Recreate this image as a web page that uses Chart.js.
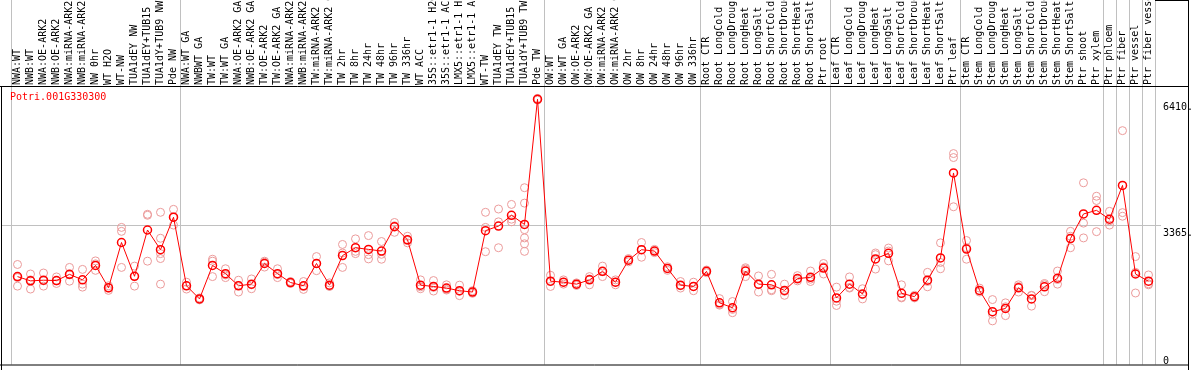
<!DOCTYPE html>
<html>
<head>
<meta charset="utf-8">
<script src="https://cdn.jsdelivr.net/npm/chart.js@4"></script>
<style>
  body { margin: 0; background: #fff; }
</style>
</head>
<body>
<canvas id="myChart" width="1194" height="370"></canvas>
<script>
const geneId = 'Potri.001G330300';

const labels = [
  'NWA:WT', 'NWB:WT', 'NWA:OE-ARK2', 'NWB:OE-ARK2', 'NWA:miRNA-ARK2', 'NWB:miRNA-ARK2', 'NW 0hr', 'WT H2O', 'WT-NW',
  'TUA1dEY NW', 'TUA1dEY+TUB15', 'TUA1dY+TUB9 NW', 'Pde NW',
  'NWA:WT GA', 'NWBWT GA', 'TW:WT', 'TW:WT GA', 'NWA:OE-ARK2 GA', 'NWB:OE-ARK2 GA', 'TW:OE-ARK2', 'TW:OE-ARK2 GA',
  'NWA:miRNA-ARK2 GA', 'NWB:miRNA-ARK2 GA', 'TW:miRNA-ARK2', 'TW:miRNA-ARK2 GA', 'TW 2hr', 'TW 8hr', 'TW 24hr', 'TW 48hr',
  'TW 96hr', 'TW 336hr', 'WT ACC', '35S::etr1-1 H2O', '35S::etr1-1 ACC', 'LMX5::etr1-1 H2O', 'LMX5::etr1-1 ACC', 'WT-TW',
  'TUA1dEY TW', 'TUA1dEY+TUB15', 'TUA1dY+TUB9 TW', 'Pde TW',
  'OW:WT', 'OW:WT GA', 'OW:OE-ARK2', 'OW:OE-ARK2 GA', 'OW:miRNA-ARK2', 'OW:miRNA-ARK2 GA', 'OW 2hr', 'OW 8hr', 'OW 24hr',
  'OW 48hr', 'OW 96hr', 'OW 336hr',
  'Root CTR', 'Root LongCold', 'Root LongDrought', 'Root LongHeat', 'Root LongSalt', 'Root ShortCold', 'Root ShortDrought',
  'Root ShortHeat', 'Root ShortSalt', 'Ptr root',
  'Leaf CTR', 'Leaf LongCold', 'Leaf LongDrought', 'Leaf LongHeat', 'Leaf LongSalt', 'Leaf ShortCold', 'Leaf ShortDrought',
  'Leaf ShortHeat', 'Leaf ShortSalt', 'Ptr leaf',
  'Stem CTR', 'Stem LongCold', 'Stem LongDrought', 'Stem LongHeat', 'Stem LongSalt', 'Stem ShortCold', 'Stem ShortDrought',
  'Stem ShortHeat', 'Stem ShortSalt', 'Ptr shoot', 'Ptr xylem',
  'Ptr phloem', 'Ptr fiber', 'Ptr vessel', 'Ptr fiber vessel'
];

// mean expression per sample (red line)
const means = [
  2124, 2021, 2037, 2029, 2179, 2045, 2393, 1854, 2948, 2132, 3250, 2774, 3559,
  1902, 1585, 2393, 2195, 1902, 1942, 2441, 2195, 1981, 1902, 2441, 1918, 2631, 2822, 2782, 2742,
  3329, 3012, 1918, 1886, 1847, 1783, 1751, 3234, 3345, 3606, 3384, 6410,
  2013, 1989, 1942, 2045, 2251, 1989, 2520, 2774, 2742, 2322, 1918, 1886,
  2251, 1490, 1371, 2259, 1942, 1926, 1791, 2076, 2108, 2330,
  1609, 1942, 1704, 2552, 2687, 1720, 1640, 2037, 2576, 4629,
  2790, 1791, 1276, 1355, 1854, 1585, 1878, 2084, 3043, 3638, 3725,
  3511, 4328, 2187, 2013
];

// replicate values per sample (pink circles)
const replicates = [
  [2417, 2100, 1894], [2187, 2045, 1823], [2211, 2021, 1894], [2116, 2021, 1958], [2346, 2164, 2013],
  [2298, 1942, 1870], [2504, 2433, 2275], [1902, 1847, 1791], [3313, 3218, 2346], [2378, 2132, 1894],
  [3630, 3606, 2497], [3678, 3051, 2679, 2560, 1942], [3749, 3559, 3369],
  [1989, 1902, 1823], [1609, 1585, 1561], [2544, 2497, 2124], [2314, 2164, 2100], [2037, 1910, 1751],
  [2068, 1926, 1831], [2497, 2473, 2354], [2314, 2172, 2100], [2005, 1981, 1958], [2005, 1886, 1815],
  [2608, 2441, 2267], [1973, 1894, 1886], [2901, 2695, 2346], [3036, 2734, 2679], [3115, 2655, 2552],
  [2972, 2663, 2544], [3432, 3353, 3194], [3099, 2996, 2940], [2045, 1878, 1831], [2029, 1862, 1775],
  [1926, 1815, 1799], [1918, 1767, 1664], [1783, 1751, 1720], [3678, 3313, 2726], [3757, 3448, 2822],
  [3868, 3511, 3448], [4272, 3900, 3258, 3059, 2917, 2734], [6430, 6410, 6390],
  [2156, 2005, 1886], [2045, 1989, 1942], [1973, 1942, 1910], [2124, 2068, 1926], [2378, 2243, 2124],
  [2045, 1989, 1926], [2560, 2520, 2481], [2948, 2774, 2592], [2782, 2742, 2703], [2362, 2322, 2275],
  [2005, 1902, 1847], [1989, 1886, 1783],
  [2283, 2251, 2219], [1593, 1450, 1434], [1522, 1331, 1252], [2338, 2306, 2124], [2140, 1926, 1751],
  [2179, 1807, 1783], [1942, 1767, 1672], [2148, 2061, 2021], [2259, 2061, 2005], [2441, 2362, 2187],
  [1870, 1529, 1426], [2116, 1862, 1847], [1831, 1688, 1585], [2695, 2655, 2306], [2814, 2742, 2504],
  [1926, 1625, 1609], [1672, 1640, 1609], [2227, 2005, 1878], [2940, 2465, 2314], [5097, 5001, 3812],
  [2996, 2822, 2544], [1847, 1783, 1751], [1569, 1212, 1054], [1490, 1395, 1181], [1926, 1886, 1751],
  [1672, 1664, 1411], [1958, 1926, 1759], [2259, 2053, 1942], [3218, 3099, 2822], [4391, 3416, 3059],
  [4066, 3963, 3210],
  [3701, 3472, 3369], [5651, 3670, 3583], [2608, 2227, 1728], [2164, 1950, 1926]
];

const yTicks = [0, 3365, 6410];
const yMax = 6730;
// sample index where a new group starts (grey separators)
const groupBreaks = [0, 13, 41, 53, 63, 73, 84, 85, 86, 87, 88];

const monoFont = '10px "DejaVu Sans Mono", "Liberation Mono", monospace';

let meanPoints = means.map((v, i) => ({ x: i, y: v }));
let repPoints = [];
replicates.forEach((vals, i) => {
  for (let v of vals) repPoints.push({ x: i, y: v });
});

const decor = {
  id: 'decor',
  beforeDatasetsDraw(chart) {
    const { ctx, chartArea: a, scales: { x, y } } = chart;
    ctx.save();
    ctx.lineWidth = 1;

    // grey group separators and the middle grid line
    ctx.strokeStyle = '#c0c0c0';
    ctx.beginPath();
    for (let b of groupBreaks) {
      let px = Math.round(x.getPixelForValue(b - 0.5)) + 0.5;
      ctx.moveTo(px, 0);
      ctx.lineTo(px, a.bottom);
    }
    let gy = Math.round(y.getPixelForValue(yTicks[1])) + 0.5;
    ctx.moveTo(1, gy);
    ctx.lineTo(1161, gy);
    ctx.stroke();

    // black frame
    ctx.strokeStyle = '#000';
    ctx.beginPath();
    ctx.moveTo(0, a.top + 0.5); ctx.lineTo(1189, a.top + 0.5);
    ctx.moveTo(1.5, a.top); ctx.lineTo(1.5, 370);
    ctx.moveTo(0, a.bottom + 0.5); ctx.lineTo(1189, a.bottom + 0.5);
    ctx.moveTo(1188.5, 0); ctx.lineTo(1188.5, 370);
    ctx.moveTo(a.right, 0.5); ctx.lineTo(1189, 0.5);
    ctx.stroke();

    // rotated sample names in the header
    ctx.fillStyle = '#000';
    ctx.font = monoFont;
    ctx.textAlign = 'left';
    ctx.textBaseline = 'middle';
    labels.forEach((lab, i) => {
      ctx.save();
      ctx.translate(x.getPixelForValue(i), a.top - 1);
      ctx.rotate(-Math.PI / 2);
      ctx.fillText(lab, 0, 0);
      ctx.restore();
    });

    // value labels on the right
    for (let t of yTicks) {
      let py = y.getPixelForValue(t);
      let txt = t === 0 ? '0' : t + '.';
      ctx.fillText(txt, 1163, t === 0 ? a.bottom - 3 : py + 8);
    }

    // gene id
    ctx.fillStyle = '#ff0000';
    ctx.textBaseline = 'top';
    ctx.fillText(geneId, 10, a.top + 6);
    ctx.restore();
  }
};

const myChart = new Chart(document.getElementById('myChart'), {
  type: 'line',
  data: {
    datasets: [{
      label: 'mean',
      data: meanPoints,
      borderColor: '#ff0000',
      borderWidth: 1,
      pointRadius: 4,
      pointBorderWidth: 1.5,
      pointBorderColor: '#ff0000',
      pointBackgroundColor: 'rgba(0,0,0,0)',
      tension: 0,
      order: 0
    }, {
      label: 'replicates',
      data: repPoints,
      showLine: false,
      pointRadius: 4,
      pointBorderWidth: 1,
      pointBorderColor: '#eb9a9a',
      pointBackgroundColor: 'rgba(0,0,0,0)',
      order: 1
    }]
  },
  options: {
    responsive: false,
    animation: false,
    devicePixelRatio: 1,
    layout: { padding: { left: 11, right: 39, top: 86, bottom: 1 } },
    plugins: { legend: { display: false }, tooltip: { enabled: false } },
    scales: {
      x: { type: 'linear', min: -0.5, max: 87.5, display: false },
      y: { min: 0, max: yMax, display: false }
    }
  },
  plugins: [decor]
});
</script>
</body>
</html>
